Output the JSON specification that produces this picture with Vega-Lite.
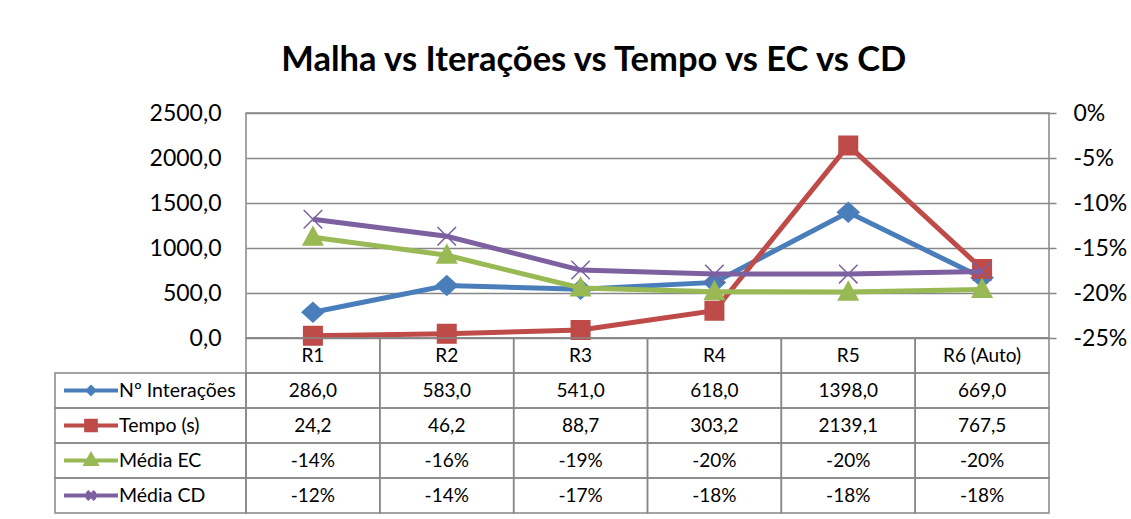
{
  "$schema": "https://vega.github.io/schema/vega-lite/v6.json",
  "padding": {"left": 54, "top": 42, "right": 0, "bottom": 0},
  "config": {
    "font": "Lato",
    "locale": {"number": {"decimal": ",", "thousands": ".", "grouping": [3], "currency": ["", ""], "minus": "-"}},
    "view": {"stroke": "#878787", "strokeWidth": 1.5},
    "text": {"fontSize": 19, "color": "black"}
  },
  "title": {"text": "Malha vs Iterações vs Tempo vs EC vs CD", "fontSize": 34.5, "fontWeight": "bold", "font": "Lato", "color": "black", "anchor": "middle", "offset": 23, "dx": 3},
  "datasets": {
    "d": [
      {"cat": "R1", "serie": "Nº Interações", "v": 286.0},
      {"cat": "R2", "serie": "Nº Interações", "v": 583.0},
      {"cat": "R3", "serie": "Nº Interações", "v": 541.0},
      {"cat": "R4", "serie": "Nº Interações", "v": 618.0},
      {"cat": "R5", "serie": "Nº Interações", "v": 1398.0},
      {"cat": "R6 (Auto)", "serie": "Nº Interações", "v": 669.0},
      {"cat": "R1", "serie": "Tempo (s)", "v": 24.2},
      {"cat": "R2", "serie": "Tempo (s)", "v": 46.2},
      {"cat": "R3", "serie": "Tempo (s)", "v": 88.7},
      {"cat": "R4", "serie": "Tempo (s)", "v": 303.2},
      {"cat": "R5", "serie": "Tempo (s)", "v": 2139.1},
      {"cat": "R6 (Auto)", "serie": "Tempo (s)", "v": 767.5},
      {"cat": "R1", "serie": "Média EC", "v": -0.138},
      {"cat": "R2", "serie": "Média EC", "v": -0.158},
      {"cat": "R3", "serie": "Média EC", "v": -0.1945},
      {"cat": "R4", "serie": "Média EC", "v": -0.1985},
      {"cat": "R5", "serie": "Média EC", "v": -0.199},
      {"cat": "R6 (Auto)", "serie": "Média EC", "v": -0.196},
      {"cat": "R1", "serie": "Média CD", "v": -0.118},
      {"cat": "R2", "serie": "Média CD", "v": -0.137},
      {"cat": "R3", "serie": "Média CD", "v": -0.1745},
      {"cat": "R4", "serie": "Média CD", "v": -0.179},
      {"cat": "R5", "serie": "Média CD", "v": -0.179},
      {"cat": "R6 (Auto)", "serie": "Média CD", "v": -0.176}
    ]
  },
  "columns": 2,
  "spacing": 0,
  "bounds": "flush",
  "resolve": {"scale": {"shape": "independent", "color": "independent", "fill": "independent", "stroke": "independent"}},
  "concat": [
    {
      "width": 191, "height": 225,
      "view": {"stroke": null},
      "data": {"values": [{}]},
      "mark": {"type": "text", "text": ""},
      "encoding": {}
    },
    {
      "width": 803, "height": 225,
      "data": {"name": "d"},
      "encoding": {
        "x": {"field": "cat", "type": "nominal", "scale": {"type": "band", "domain": ["R1", "R2", "R3", "R4", "R5", "R6 (Auto)"], "paddingInner": 0, "paddingOuter": 0}, "axis": null}
      },
      "layer": [
        {
          "transform": [{"filter": {"field": "serie", "oneOf": ["Nº Interações", "Tempo (s)"]}}],
          "encoding": {
            "y": {"field": "v", "type": "quantitative", "scale": {"domain": [0, 2500], "nice": false, "zero": false},
              "axis": {"orient": "left", "values": [0, 500, 1000, 1500, 2000, 2500], "format": ".1f", "grid": true, "gridColor": "#878787", "gridWidth": 1.5, "domain": false, "ticks": false, "labelPadding": 25, "labelFontSize": 23, "labelColor": "black", "title": null}}
          },
          "layer": [
            {"mark": {"type": "line", "strokeWidth": 5},
             "encoding": {"color": {"field": "serie", "type": "nominal", "scale": {"domain": ["Nº Interações", "Tempo (s)", "Média EC", "Média CD"], "range": ["#4A7EBB", "#BE4B48", "#98B954", "#7D60A0"]}, "legend": null}}},
            {"mark": {"type": "point", "filled": true, "opacity": 1, "size": 380, "strokeWidth": 1.5},
             "encoding": {
               "fill": {"field": "serie", "type": "nominal", "scale": {"domain": ["Nº Interações", "Tempo (s)", "Média EC", "Média CD"], "range": ["#4A7EBB", "#BE4B48", "#98B954", "#7D60A0"]}, "legend": null},
               "stroke": {"field": "serie", "type": "nominal", "scale": {"domain": ["Nº Interações", "Tempo (s)", "Média EC", "Média CD"], "range": ["#4A7EBB", "#BE4B48", "#98B954", "#7D60A0"]}, "legend": null},
               "shape": {"field": "serie", "type": "nominal", "scale": {"domain": ["Nº Interações", "Tempo (s)", "Média EC", "Média CD"], "range": ["M0,-1L1.1,0L0,1L-1.1,0Z", "M-0.95,-0.95L0.95,-0.95L0.95,0.95L-0.95,0.95Z", "M0,-1.05L1,0.8L-1,0.8Z", "M-0.95,-0.95L0.95,0.95M-0.95,0.95L0.95,-0.95"]}, "legend": null}
             }}
          ]
        },
        {
          "transform": [{"filter": {"field": "serie", "oneOf": ["Média EC", "Média CD"]}}],
          "encoding": {
            "y": {"field": "v", "type": "quantitative", "scale": {"domain": [-0.25, 0], "nice": false, "zero": false},
              "axis": {"orient": "right", "values": [-0.25, -0.2, -0.15, -0.1, -0.05, 0], "format": ".0%", "grid": false, "domain": false, "ticks": true, "tickSize": 7, "tickColor": "#878787", "tickWidth": 1.5, "labelPadding": 17, "labelFontSize": 23, "labelColor": "black", "title": null}}
          },
          "layer": [
            {"mark": {"type": "line", "strokeWidth": 5},
             "encoding": {"color": {"field": "serie", "type": "nominal", "scale": {"domain": ["Nº Interações", "Tempo (s)", "Média EC", "Média CD"], "range": ["#4A7EBB", "#BE4B48", "#98B954", "#7D60A0"]}, "legend": null}}},
            {"mark": {"type": "point", "filled": true, "opacity": 1, "size": 380, "strokeWidth": 1.5},
             "encoding": {
               "fill": {"field": "serie", "type": "nominal", "scale": {"domain": ["Nº Interações", "Tempo (s)", "Média EC", "Média CD"], "range": ["#4A7EBB", "#BE4B48", "#98B954", "#7D60A0"]}, "legend": null},
               "stroke": {"field": "serie", "type": "nominal", "scale": {"domain": ["Nº Interações", "Tempo (s)", "Média EC", "Média CD"], "range": ["#4A7EBB", "#BE4B48", "#98B954", "#7D60A0"]}, "legend": null},
               "shape": {"field": "serie", "type": "nominal", "scale": {"domain": ["Nº Interações", "Tempo (s)", "Média EC", "Média CD"], "range": ["M0,-1L1.1,0L0,1L-1.1,0Z", "M-0.95,-0.95L0.95,-0.95L0.95,0.95L-0.95,0.95Z", "M0,-1.05L1,0.8L-1,0.8Z", "M-0.95,-0.95L0.95,0.95M-0.95,0.95L0.95,-0.95"]}, "legend": null}
             }}
          ]
        }
      ],
      "resolve": {"scale": {"y": "independent"}}
    },
    {
      "width": 191, "height": 175,
      "view": {"stroke": null},
      "data": {"name": "d"},
      "transform": [{"filter": {"field": "cat", "equal": "R1"}}],
      "layer": [
        {
          "mark": {"type": "rect", "fill": "transparent", "stroke": "#878787", "strokeWidth": 1.5},
          "encoding": {"y": {"field": "serie", "type": "nominal", "scale": {"type": "band", "domain": [" ", "Nº Interações", "Tempo (s)", "Média EC", "Média CD"], "paddingInner": 0, "paddingOuter": 0}, "axis": null}}
        },
        {
          "mark": {"type": "point", "filled": true},
          "encoding": {
            "opacity": {"value": 0},
            "fill": {"field": "serie", "type": "nominal", "scale": {"domain": ["Nº Interações", "Tempo (s)", "Média EC", "Média CD"], "range": ["#4A7EBB", "#BE4B48", "#98B954", "#7D60A0"]},
              "legend": {"title": null, "orient": "none", "legendX": 0, "legendY": 35, "clipHeight": 35, "rowPadding": 0, "padding": 0, "symbolOffset": 7, "labelOffset": -1, "labelFontSize": 19.5, "labelColor": "black", "symbolSize": 2916, "symbolStrokeWidth": 4, "symbolOpacity": 1}},
            "stroke": {"field": "serie", "type": "nominal", "scale": {"domain": ["Nº Interações", "Tempo (s)", "Média EC", "Média CD"], "range": ["#4A7EBB", "#BE4B48", "#98B954", "#7D60A0"]},
              "legend": {"title": null, "orient": "none", "legendX": 0, "legendY": 35, "clipHeight": 35, "rowPadding": 0, "padding": 0, "symbolOffset": 7, "labelOffset": -1, "labelFontSize": 19.5, "labelColor": "black", "symbolSize": 2916, "symbolStrokeWidth": 4, "symbolOpacity": 1}},
            "shape": {"field": "serie", "type": "nominal", "scale": {"domain": ["Nº Interações", "Tempo (s)", "Média EC", "Média CD"], "range": ["M-1,0L1,0M0,-0.12L0.12,0L0,0.12L-0.12,0Z", "M-1,0L1,0M-0.18,-0.18L0.18,-0.18L0.18,0.18L-0.18,0.18Z", "M-1,0L1,0M0,-0.2L0.19,0.13L-0.19,0.13Z", "M-1,0L1,0M-0.15,-0.15L0.15,0.15M-0.15,0.15L0.15,-0.15"]},
              "legend": {"title": null, "orient": "none", "legendX": 0, "legendY": 35, "clipHeight": 35, "rowPadding": 0, "padding": 0, "symbolOffset": 7, "labelOffset": -1, "labelFontSize": 19.5, "labelColor": "black", "symbolSize": 2916, "symbolStrokeWidth": 4, "symbolOpacity": 1}}
          }
        }
      ]
    },
    {
      "width": 803, "height": 175,
      "view": {"stroke": null},
      "data": {"name": "d"},
      "encoding": {
        "x": {"field": "cat", "type": "nominal", "scale": {"type": "band", "domain": ["R1", "R2", "R3", "R4", "R5", "R6 (Auto)"], "paddingInner": 0, "paddingOuter": 0}, "axis": null}
      },
      "layer": [
        {
          "mark": {"type": "rect", "fill": "transparent", "stroke": "#878787", "strokeWidth": 1.5},
          "encoding": {"y": {"field": "serie", "type": "nominal", "scale": {"type": "band", "domain": [" ", "Nº Interações", "Tempo (s)", "Média EC", "Média CD"], "paddingInner": 0, "paddingOuter": 0}, "axis": null}}
        },
        {
          "transform": [{"filter": {"field": "serie", "equal": "Nº Interações"}}],
          "mark": {"type": "rect", "fill": "transparent", "stroke": "#878787", "strokeWidth": 1.5},
          "encoding": {"y": {"datum": " ", "type": "nominal"}}
        },
        {
          "transform": [{"filter": {"field": "serie", "equal": "Nº Interações"}}],
          "mark": {"type": "text"},
          "encoding": {"y": {"datum": " ", "type": "nominal"}, "text": {"field": "cat"}}
        },
        {
          "transform": [{"filter": {"field": "serie", "oneOf": ["Nº Interações", "Tempo (s)"]}}],
          "mark": {"type": "text"},
          "encoding": {"y": {"field": "serie", "type": "nominal"}, "text": {"field": "v", "type": "quantitative", "format": ".1f"}}
        },
        {
          "transform": [{"filter": {"field": "serie", "oneOf": ["Média EC", "Média CD"]}}],
          "mark": {"type": "text"},
          "encoding": {"y": {"field": "serie", "type": "nominal"}, "text": {"field": "v", "type": "quantitative", "format": ".0%"}}
        }
      ]
    }
  ]
}
